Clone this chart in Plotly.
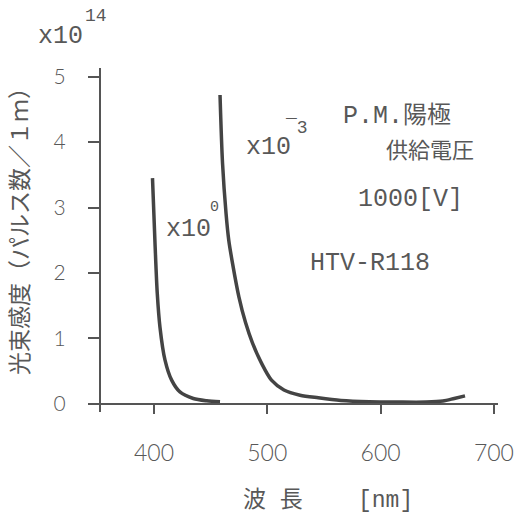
import plotly.graph_objects as go

# Photocathode luminous sensitivity vs. wavelength (HTV-R118)
wl_a = [398.7, 400.9, 402.9, 405.3, 409.7, 415.6, 422.9, 434.7, 446.5, 458.3]
resp_a = [3.45, 2.46, 1.69, 1.17, 0.67, 0.36, 0.18, 0.08, 0.045, 0.03]

wl_b = [458.3, 460.5, 463.6, 466.0, 469.3, 475.0, 480.8, 486.9, 494.9, 503.7,
        514.7, 528.9, 545.0, 565.0, 590.0, 615.0, 640.0, 655.0, 665.0, 674.5]
resp_b = [4.72, 3.68, 2.91, 2.50, 2.15, 1.63, 1.24, 0.93, 0.62, 0.36,
          0.21, 0.13, 0.09, 0.05, 0.03, 0.025, 0.025, 0.04, 0.08, 0.12]

x_ticks = [400, 500, 600, 700]
y_ticks = [0, 1, 2, 3, 4, 5]
x_range = [346.2, 703.6]
y_range = [-0.127, 5.133]
x_origin = 352.3   # wavelength where the vertical axis is drawn

W, H = 514, 516
L, R, T, B = 93, 498, 68, 412   # plot box in pixels

MONO = "Liberation Mono, Noto Sans CJK JP"
SANS = "Lato, Open Sans, sans-serif"
CJK = "Noto Sans CJK JP"
INK = "#444444"
TXT = "#585858"
AXIS = "#555555"


def px(xp):
    return (xp - L) / (R - L)


def py(yp):
    return (B - yp) / (B - T)


fig = go.Figure()
for wl, resp in ((wl_a, resp_a), (wl_b, resp_b)):
    fig.add_trace(go.Scatter(
        x=wl, y=resp, mode="lines",
        line=dict(color=INK, width=3.5, shape="spline", smoothing=0.8),
        showlegend=False, hoverinfo="skip",
    ))

xpos = (0 - y_range[0]) / (y_range[1] - y_range[0])
ypos = (x_origin - x_range[0]) / (x_range[1] - x_range[0])

fig.update_layout(
    width=W, height=H,
    margin=dict(l=L, r=W - R, t=T, b=H - B, pad=0),
    paper_bgcolor="white", plot_bgcolor="white",
    xaxis=dict(
        range=x_range, tickvals=x_ticks, anchor="free", position=xpos,
        showline=True, linecolor=AXIS, linewidth=2,
        ticks="outside", ticklen=9, tickwidth=2, tickcolor=AXIS,
        ticklabelstandoff=20, automargin=False,
        tickfont=dict(family=SANS, size=23, color=TXT, weight=300),
        showgrid=False, zeroline=False,
    ),
    yaxis=dict(
        range=y_range, tickvals=y_ticks, anchor="free", position=ypos,
        showline=True, linecolor=AXIS, linewidth=2,
        ticks="outside", ticklen=11, tickwidth=2, tickcolor=AXIS,
        ticklabelstandoff=18, automargin=False,
        tickfont=dict(family=SANS, size=21, color=TXT, weight=300),
        showgrid=False, zeroline=False,
    ),
)


def label(text, x, y, size, family=MONO, **kw):
    fig.add_annotation(
        text=text, x=px(x), y=py(y), xref="paper", yref="paper",
        xanchor="center", yanchor="middle", showarrow=False,
        font=dict(family=family, size=size, color=TXT), **kw,
    )


# scale factors
label("x10", 60, 36, 25)
label("14", 96, 16, 18)
label("x10", 268, 147, 25)
label("¯3", 296, 128, 18)
label("x10", 188, 229, 25)
label("0", 214, 207, 15)

# conditions
label("P.M.<span style='font-size:24px'>陽極</span>", 397, 116, 25)
label("供給電圧", 430, 148, 22, family=CJK)
label("1000[V]", 410, 199, 25)
label("HTV-R118", 370, 263, 25)

# axis titles
label("光束感度（パルス数／１ｍ）", 18, 226, 23, family=CJK, textangle=-90)
label("波 長    [nm]", 328, 500, 23)

fig.write_html("out.html")
